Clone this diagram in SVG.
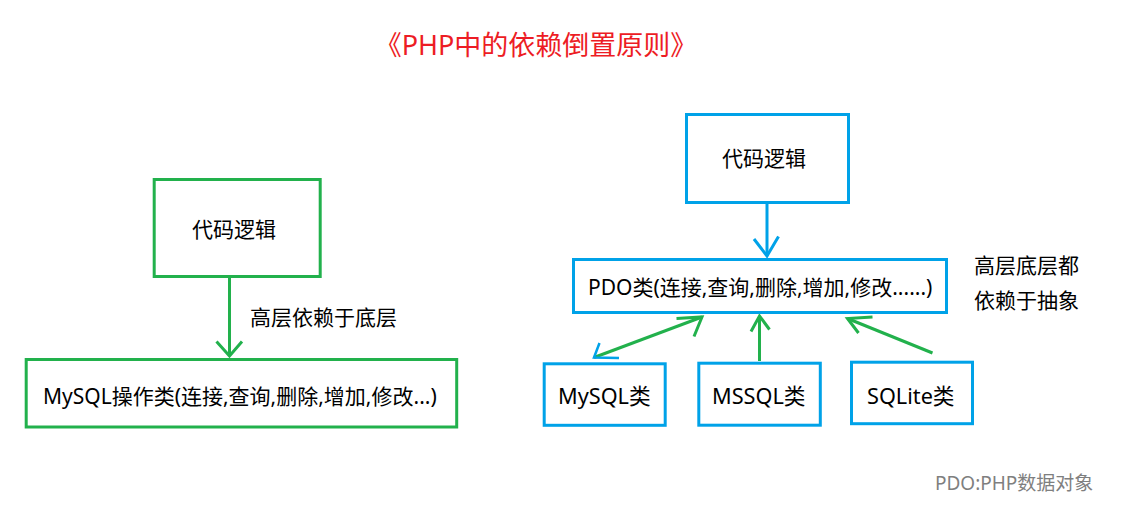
<svg xmlns="http://www.w3.org/2000/svg" width="1129" height="514" viewBox="0 0 1129 514">
<style>
text{font-family:"Noto Sans","Noto Sans CJK SC",sans-serif;fill:#000}
.t{font-size:21px}
.s{font-size:21.7px}
.title{font-size:27px;fill:#ed1c24}
.note{font-size:19px;fill:#7f7f7f}
.gbox{fill:#fff;stroke:#22b14c;stroke-width:3}
.bbox{fill:#fff;stroke:#00a2e8;stroke-width:3}
.g{fill:none;stroke:#22b14c;stroke-width:3;stroke-linejoin:miter}
.b{fill:none;stroke:#00a2e8;stroke-width:3}
</style>
<rect width="1129" height="514" fill="#fff"/>
<text class="title" x="536" y="55" text-anchor="middle">《PHP中的依赖倒置原则》</text>

<g id="connectors">
<path class="g" d="M229.5 278V356"/>
<polyline class="g" points="216.5,341.5 229.5,356 242,341.5"/>
<path class="b" d="M767 204V256"/>
<polyline class="b" points="754,239 767,256 778.5,236.5"/>
<path class="g" d="M594 357.5L702 317"/>
<polyline class="g" points="676.5,318.5 702,317 694,336.5"/>
<polyline class="b" style="stroke-width:2.5" points="599.5,343 594,357.5 619,358"/>
<path class="g" d="M759.5 361V316"/>
<polyline class="g" points="751,331.5 759.5,316 769.5,329.5"/>
<path class="g" d="M932.5 353L847.5 318.5"/>
<polyline class="g" points="872.5,317 847.5,318.5 858.5,333"/>
</g>

<g id="left-logic">
<rect class="gbox" x="154.2" y="179.5" width="166" height="97"/>
<text class="t" x="192" y="237">代码逻辑</text>
</g>
<g id="left-mysql">
<rect class="gbox" x="26.2" y="359.5" width="430.5" height="67.5"/>
<text class="t" x="43" y="404">MySQL操作类(连接,查询,删除,增加,修改...)</text>
</g>
<text class="t" x="250" y="325">高层依赖于底层</text>

<g id="right-logic">
<rect class="bbox" x="686.5" y="114.5" width="162" height="88"/>
<text class="t" x="722" y="166">代码逻辑</text>
</g>
<g id="pdo">
<rect class="bbox" x="573.5" y="259.5" width="373" height="53"/>
<text class="t" x="588" y="295">PDO类(连接,查询,删除,增加,修改......)</text>
</g>
<g id="mysql">
<rect class="bbox" x="544.2" y="363.8" width="121" height="61.5"/>
<text class="s" x="558" y="404">MySQL类</text>
</g>
<g id="mssql">
<rect class="bbox" x="698.8" y="363.2" width="121.5" height="62"/>
<text class="s" x="712" y="404">MSSQL类</text>
</g>
<g id="sqlite">
<rect class="bbox" x="851.5" y="362.2" width="121" height="61.5"/>
<text class="s" x="867" y="404">SQLite类</text>
</g>
<text class="t" x="974" y="273">高层底层都</text>
<text class="t" x="974" y="308">依赖于抽象</text>
<text class="note" x="935" y="490">PDO:PHP数据对象</text>
</svg>
